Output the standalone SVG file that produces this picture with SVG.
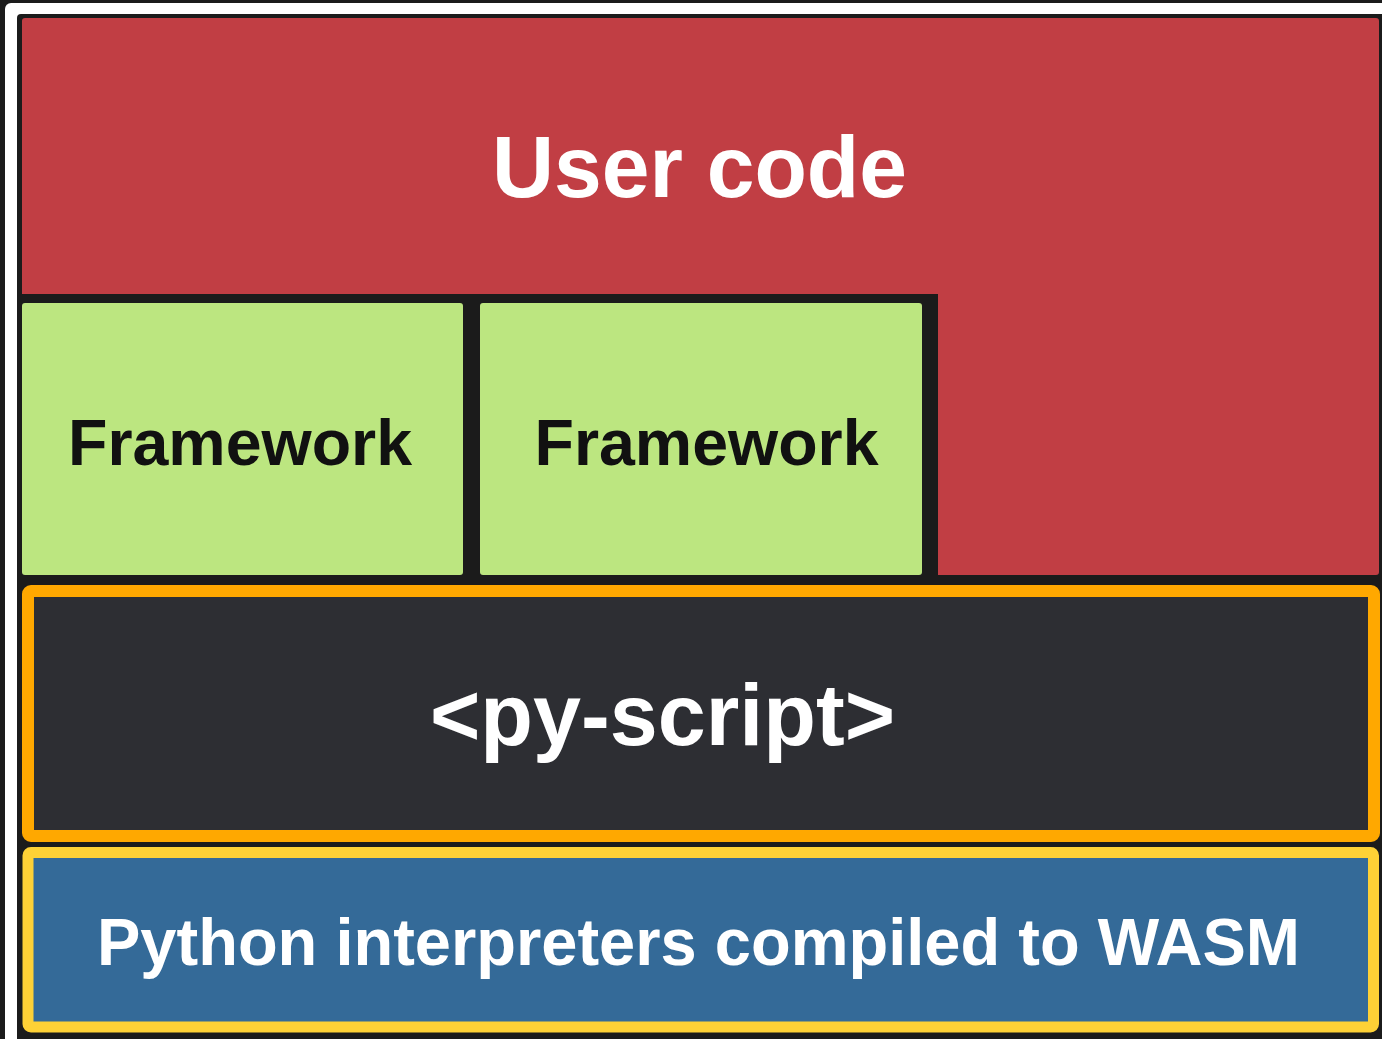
<svg xmlns="http://www.w3.org/2000/svg" width="1382" height="1039" viewBox="0 0 1382 1039">
<style>
.lbl{font-family:"Liberation Sans",Arial,Helvetica,sans-serif;font-weight:bold;text-anchor:middle}
.white{fill:#ffffff}
.black{fill:#111111}
.green{fill:#bce680}
</style>
<rect x="0" y="0" width="1382" height="1039" fill="#1b1b1b"/>
<rect x="5" y="3" width="1420" height="1100" rx="6" fill="#ffffff"/>
<rect x="17" y="14" width="1420" height="1100" rx="4" fill="#1b1b1b"/>
<g id="user-code">
<path d="M25,18 H1376 Q1379,18 1379,21 V572 Q1379,575 1376,575 H938 V294 H22 V21 Q22,18 25,18 Z" fill="#c13e44"/>
<text class="lbl white" x="699.5" y="197" font-size="88" textLength="415" lengthAdjust="spacingAndGlyphs">User code</text>
</g>
<g id="framework-1">
<rect class="green" x="22" y="303" width="441" height="272" rx="3"/>
<text class="lbl black" x="240" y="465" font-size="65" textLength="344" lengthAdjust="spacingAndGlyphs">Framework</text>
</g>
<g id="framework-2">
<rect class="green" x="480" y="303" width="442" height="272" rx="3"/>
<text class="lbl black" x="706.5" y="465" font-size="65" textLength="344" lengthAdjust="spacingAndGlyphs">Framework</text>
</g>
<g id="py-script">
<rect x="28" y="591" width="1346" height="245" rx="3" fill="#2d2e33" stroke="#ffa800" stroke-width="12"/>
<text class="lbl white" x="662.5" y="745" font-size="87" textLength="465" lengthAdjust="spacingAndGlyphs">&lt;py-script&gt;</text>
</g>
<g id="interpreters">
<rect x="28" y="852.5" width="1345.5" height="174.5" rx="3" fill="#346a98" stroke="#fed136" stroke-width="11"/>
<text class="lbl white" x="698.5" y="965" font-size="66" textLength="1203" lengthAdjust="spacingAndGlyphs">Python interpreters compiled to WASM</text>
</g>
<g id="connectors"></g>
</svg>
